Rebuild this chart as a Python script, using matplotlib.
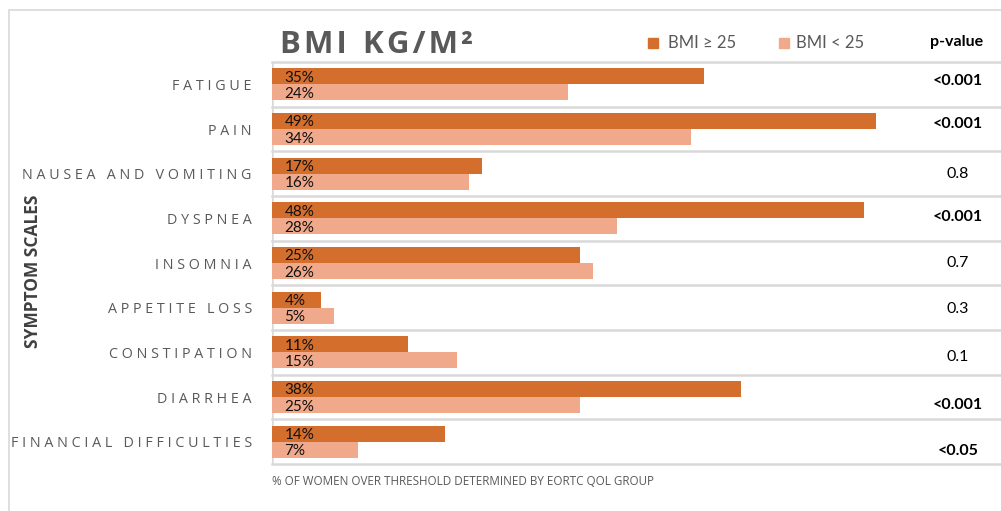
import matplotlib.pyplot as plt
from matplotlib.patches import Rectangle
import numpy as np

# EORTC symptom scales by BMI group
symptoms = ['FATIGUE', 'PAIN', 'NAUSEA AND VOMITING', 'DYSPNEA', 'INSOMNIA',
            'APPETITE LOSS', 'CONSTIPATION', 'DIARRHEA', 'FINANCIAL DIFFICULTIES']
bmi_high = [35, 49, 17, 48, 25, 4, 11, 38, 14]   # BMI >= 25
bmi_low = [24, 34, 16, 28, 26, 5, 15, 25, 7]     # BMI < 25
p_values = ['<0.001', '<0.001', '0.8', '<0.001', '0.7', '0.3', '0.1', '<0.001', '<0.05']
p_bold = [True, True, False, True, False, False, False, True, True]

# small vertical nudges for the p-value column (in row units)
p_nudge = [-0.07, -0.12, 0.0, -0.02, 0.0, 0.04, 0.11, 0.18, 0.2]

DARK = '#D46E2D'
LIGHT = '#F1A98B'
GRID = '#D9D9D9'
GREY = '#595959'


def spaced(s, gap=' ', wsep='   '):
    # fake letter spacing: put a gap between letters, wider between words
    return wsep.join(gap.join(w) for w in s.split(' '))


fig = plt.figure(figsize=(10.01, 5.11), dpi=100)
W, H = 1001, 511

# outer frame
fig.patches.append(Rectangle((9 / W, -0.1), 1.2, (H - 10) / H + 0.1,
                             transform=fig.transFigure, fill=False,
                             edgecolor=GRID, lw=1.2))

ax = fig.add_axes([272 / W, (H - 464) / H, (W - 272) / W, (464 - 62) / H])
n = len(symptoms)
y = np.arange(n)
h = 0.36

ax.barh(y - 0.18, bmi_high, height=h, color=DARK, zorder=3)
ax.barh(y + 0.18, bmi_low, height=h, color=LIGHT, zorder=3)

for i in range(n):
    ax.text(1.0, y[i] - 0.15, f'{bmi_high[i]}%', va='center', ha='left',
            fontsize=11, family=['Lato', 'DejaVu Sans'], color='#111111', zorder=4)
    ax.text(1.0, y[i] + 0.22, f'{bmi_low[i]}%', va='center', ha='left',
            fontsize=11, family=['Lato', 'DejaVu Sans'], color='#111111', zorder=4)

xmax = (W - 271.5) / 12.34
ax.set_xlim(0, xmax)
ax.set_ylim(n - 0.5, -0.5)
for b in np.arange(-0.5, n, 1.0):
    ax.axhline(b, color=GRID, lw=1.8, zorder=1, clip_on=False)
ax.axvline(0, color=GRID, lw=1.8, zorder=2)

ax.set_yticks(y)
ax.set_yticklabels([spaced(s) for s in symptoms], family='Open Sans',
                   fontsize=10.3, color=GREY)
ax.tick_params(axis='y', length=0, pad=14.5)
ax.set_xticks([])
for sp in ax.spines.values():
    sp.set_visible(False)

# p-value column
xp = (958 - 272) / (W - 272) * xmax
for i in range(n):
    ax.text(xp, y[i] + p_nudge[i], p_values[i], ha='center', va='center',
            fontsize=11.5, family=['Lato', 'DejaVu Sans'],
            fontweight='bold' if p_bold[i] else 'normal', color='black')

fig.text(957 / W, 1 - 42 / H, 'p-value', ha='center', va='center',
         fontsize=11.5, fontweight='bold', family=['Lato', 'DejaVu Sans'])

# title
fig.text(280 / W, 1 - 45 / H, spaced('BMI KG/M²', '\u200a', '  '), ha='left',
         va='center', fontsize=22.5, fontweight='bold',
         family=['Open Sans', 'DejaVu Sans'], color=GREY)

# legend
fig.patches.append(Rectangle((648 / W, 1 - 48 / H), 10 / W, 10 / H,
                             transform=fig.transFigure, color=DARK))
fig.text(668 / W, 1 - 43 / H, 'BMI ≥ 25', ha='left', va='center', fontsize=12,
         family=['Lato', 'DejaVu Sans'], color=GREY)
fig.patches.append(Rectangle((779 / W, 1 - 48 / H), 10 / W, 10 / H,
                             transform=fig.transFigure, color=LIGHT))
fig.text(796 / W, 1 - 43 / H, 'BMI < 25', ha='left', va='center', fontsize=12,
         family=['Lato', 'DejaVu Sans'], color=GREY)

# axis title and footnote
fig.text(33 / W, 1 - 271 / H, 'SYMPTOM SCALES', rotation=90, ha='center',
         va='center', fontsize=12.5, fontweight='bold',
         family=['Open Sans', 'DejaVu Sans'], color='#404040')
fig.text(272 / W, 1 - 481 / H, '% OF WOMEN OVER THRESHOLD DETERMINED BY EORTC QOL GROUP',
         ha='left', va='center', fontsize=8.4, family=['Open Sans', 'DejaVu Sans'],
         color=GREY)

fig.savefig('out.png', dpi=100)
